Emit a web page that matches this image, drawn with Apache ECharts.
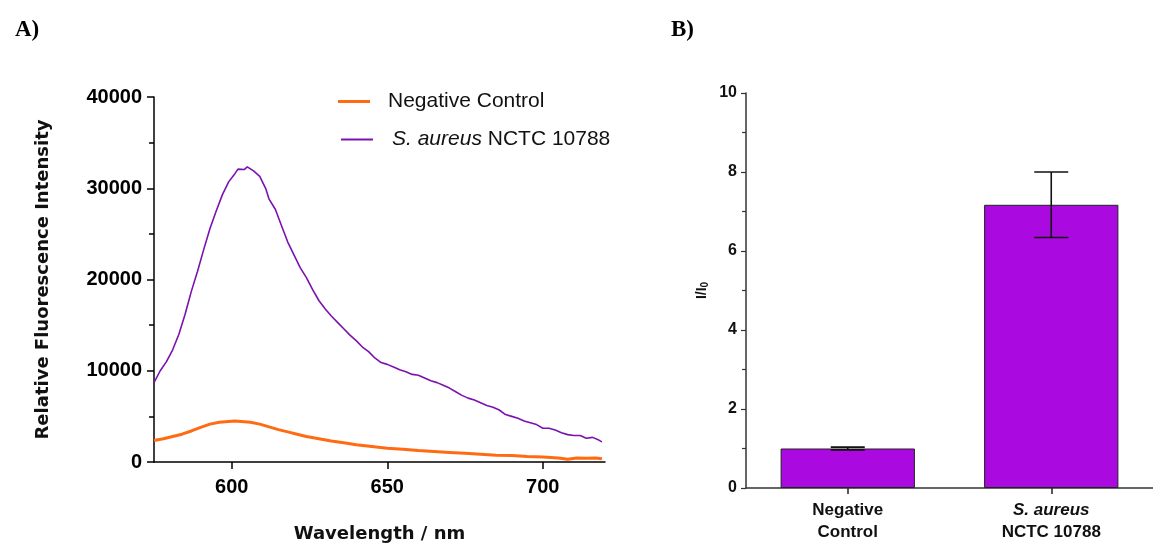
<!DOCTYPE html>
<html>
<head>
<meta charset="utf-8">
<script src="https://cdn.jsdelivr.net/npm/echarts@6/dist/echarts.min.js"></script>
<style>
html,body{margin:0;padding:0;background:#fff;}
#chart{width:1153px;height:548px;}
</style>
</head>
<body>
<div id="chart"></div>
<script>
// ---- Panel A data ----
const seriesNames = ['Negative Control', 'S. aureus NCTC 10788'];
const negWavelength = [575,578,581,584,587,590,593,596,599,601,603,606,609,612,615,618,621,624,628,632,636,640,645,650,655,660,665,670,675,680,685,690,695,700,705,708,711,714,717,719];
const negIntensity  = [2350,2550,2800,3050,3400,3800,4150,4350,4450,4480,4430,4350,4150,3850,3550,3300,3050,2800,2550,2300,2100,1900,1700,1500,1400,1250,1150,1050,950,850,750,700,600,550,450,300,450,400,450,350];
const sauWavelength = [575,577,579,581,583,585,587,589,591,593,595,597,599,601,602,604,605,607,609,611,612,614,616,618,620,622,624,626,628,630,632,634,636,638,640,642,644,646,648,650,652,654,656,658,660,662,664,666,668,670,672,674,676,678,680,682,684,686,688,690,692,694,696,698,700,702,704,706,708,710,712,714,716,718,719];
const sauIntensity  = [8700,10000,11000,12300,14000,16200,18700,20900,23300,25600,27500,29300,30700,31600,32100,32050,32350,31900,31300,29900,28800,27700,25900,24100,22700,21300,20200,18900,17700,16800,16000,15300,14600,13900,13300,12600,12100,11400,10900,10700,10400,10100,9900,9600,9500,9200,8900,8700,8400,8100,7700,7300,7000,6800,6500,6200,6000,5700,5200,5000,4800,4500,4300,4100,3700,3700,3500,3200,3000,2900,2900,2600,2700,2400,2200];
const aXTicks = [600, 650, 700];
const aYTicks = [0, 10000, 20000, 30000, 40000];

// ---- Panel B data ----
const barCategories = ['Negative\nControl', 'S. aureus\nNCTC 10788'];
const barMeans = [1.0, 7.17];
const barErrors = [0.035, 0.83];
const bYTicks = [0, 2, 4, 6, 8, 10];

const ORANGE = '#FF6B12';
const PURPLE = '#7B12AE';
const BARCOL = '#AA0AE0';

const chart = echarts.init(document.getElementById('chart'), null, {renderer: 'canvas'});

const negData = negWavelength.map((w, i) => [w, negIntensity[i]]);
const sauData = sauWavelength.map((w, i) => [w, sauIntensity[i]]);
const errData = barMeans.map((m, i) => [i, m - barErrors[i], m + barErrors[i]]);

const bold = 'bold';
const AR = 'Liberation Sans, Arial, sans-serif';
const DJ = 'DejaVu Sans, sans-serif';

const option = {
  animation: false,
  backgroundColor: '#fff',
  title: [
    {text: 'A)', left: 10, top: 14, textStyle: {fontFamily: 'Liberation Serif, Times New Roman, serif', fontWeight: 'bold', fontSize: 23, color: '#000'}},
    {text: 'B)', left: 666, top: 14, textStyle: {fontFamily: 'Liberation Serif, Times New Roman, serif', fontWeight: 'bold', fontSize: 23, color: '#000'}}
  ],
  legend: [
    {
      data: [seriesNames[0]], left: 333, top: 86, orient: 'vertical',
      icon: 'rect', itemWidth: 32, itemHeight: 3,
      textStyle: {fontFamily: AR, fontSize: 21, color: '#111', padding: [0, 0, 0, 13]}
    },
    {
      data: [seriesNames[1]], left: 336, top: 124, orient: 'vertical',
      icon: 'rect', itemWidth: 32, itemHeight: 2,
      formatter: () => '{it|S. aureus} {n|NCTC 10788}',
      textStyle: {fontFamily: AR, fontSize: 21, color: '#111', padding: [0, 0, 0, 14],
        rich: {it: {fontStyle: 'italic', fontFamily: AR, fontSize: 21, color: '#111'}, n: {fontFamily: AR, fontSize: 21, color: '#111'}}}
    }
  ],
  grid: [
    {left: 154, right: 548, top: 97, bottom: 85},
    {left: 746, width: 413, top: 93, bottom: 60}
  ],
  xAxis: [
    {
      gridIndex: 0, type: 'value', min: 575, max: 720,
      name: 'Wavelength / nm', nameLocation: 'middle', nameGap: 63,
      nameTextStyle: {fontFamily: DJ, fontWeight: bold, fontSize: 18, color: '#111'},
      axisLine: {show: true, lineStyle: {color: '#000', width: 1.5}},
      axisTick: {show: true, length: 7, lineStyle: {color: '#000', width: 1.5}, customValues: aXTicks},
      axisLabel: {customValues: aXTicks, fontFamily: AR, fontWeight: bold, fontSize: 20, color: '#000', margin: 15, formatter: v => String(v)},
      splitLine: {show: false}
    },
    {
      gridIndex: 1, type: 'category', data: barCategories,
      axisLine: {show: true, lineStyle: {color: '#333', width: 1.5}},
      axisTick: {show: true, alignWithLabel: true, length: 6, lineStyle: {color: '#222', width: 1.5}},
      axisLabel: {
        fontFamily: AR, fontWeight: bold, fontSize: 17, color: '#111', margin: 11, lineHeight: 22,
        formatter: v => v.indexOf('S. aureus') === 0 ? '{it|S. aureus}\n{b|NCTC 10788}' : v,
        rich: {
          it: {fontStyle: 'italic', fontWeight: bold, fontFamily: AR, fontSize: 17, color: '#111', lineHeight: 22},
          b: {fontWeight: bold, fontFamily: AR, fontSize: 17, color: '#111', lineHeight: 22}
        }
      },
      splitLine: {show: false}
    }
  ],
  yAxis: [
    {
      gridIndex: 0, type: 'value', min: 0, max: 40000, interval: 10000,
      name: 'Relative Fluorescence Intensity', nameLocation: 'middle', nameGap: 102,
      nameTextStyle: {fontFamily: DJ, fontWeight: bold, fontSize: 18, color: '#111'},
      axisLine: {show: true, lineStyle: {color: '#000', width: 1.5}},
      axisTick: {show: true, length: 7, lineStyle: {color: '#000', width: 1.5}},
      minorTick: {show: true, splitNumber: 2, length: 5, lineStyle: {color: '#000', width: 1.5}},
      axisLabel: {fontFamily: AR, fontWeight: bold, fontSize: 20, color: '#000', margin: 12, formatter: v => String(v)},
      splitLine: {show: false}, minorSplitLine: {show: false}
    },
    {
      gridIndex: 1, type: 'value', min: 0, max: 10, interval: 2,
      name: '{a|I/I}{s|0}', nameLocation: 'middle', nameGap: 36,
      nameTextStyle: {fontFamily: AR, fontWeight: bold, fontSize: 14, color: '#111',
        rich: {a: {fontFamily: AR, fontWeight: bold, fontSize: 14, color: '#111'}, s: {fontFamily: AR, fontWeight: bold, fontSize: 10, color: '#111', verticalAlign: 'bottom', padding: [6, 0, 0, 0]}}},
      axisLine: {show: true, lineStyle: {color: '#333', width: 1.5}},
      axisTick: {show: true, length: 5, lineStyle: {color: '#333', width: 1.2}},
      minorTick: {show: true, splitNumber: 2, length: 4, lineStyle: {color: '#333', width: 1.2}},
      axisLabel: {fontFamily: AR, fontWeight: bold, fontSize: 16, color: '#111', margin: 9},
      splitLine: {show: false}, minorSplitLine: {show: false}
    }
  ],
  series: [
    {
      name: seriesNames[0], type: 'line', xAxisIndex: 0, yAxisIndex: 0,
      data: negData, symbol: 'none', color: ORANGE,
      lineStyle: {color: ORANGE, width: 3}, z: 3
    },
    {
      name: seriesNames[1], type: 'line', xAxisIndex: 0, yAxisIndex: 0,
      data: sauData, symbol: 'none', color: PURPLE,
      lineStyle: {color: PURPLE, width: 1.6}, z: 4
    },
    {
      name: 'I/I0', type: 'bar', xAxisIndex: 1, yAxisIndex: 1,
      data: barMeans, barWidth: '66%',
      itemStyle: {color: BARCOL, borderColor: '#222', borderWidth: 1}, z: 2
    },
    {
      name: 'error', type: 'custom', xAxisIndex: 1, yAxisIndex: 1, z: 5,
      data: errData,
      renderItem: function (params, api) {
        const x = api.value(0);
        const lo = api.coord([x, api.value(1)]);
        const hi = api.coord([x, api.value(2)]);
        const hw = 17;
        const st = {stroke: '#111', lineWidth: 1.6};
        return {
          type: 'group',
          children: [
            {type: 'line', shape: {x1: lo[0], y1: lo[1], x2: hi[0], y2: hi[1]}, style: st},
            {type: 'line', shape: {x1: hi[0] - hw, y1: hi[1], x2: hi[0] + hw, y2: hi[1]}, style: st},
            {type: 'line', shape: {x1: lo[0] - hw, y1: lo[1], x2: lo[0] + hw, y2: lo[1]}, style: st}
          ]
        };
      }
    }
  ]
};
chart.setOption(option);
</script>
</body>
</html>
